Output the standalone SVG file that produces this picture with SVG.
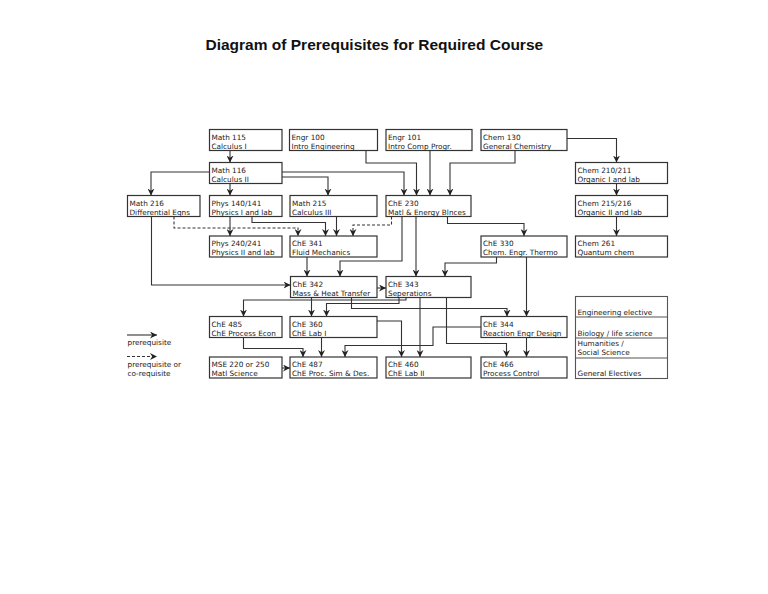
<svg xmlns="http://www.w3.org/2000/svg" width="768" height="594" viewBox="0 0 768 594">
<style>
.bg{fill:#fff}
.box{fill:#fff;stroke:#333;stroke-width:1.2}
.t{font-family:"DejaVu Sans",Verdana,sans-serif;font-size:7.3px;fill:#1a1a1a}
.title{font-family:"Liberation Sans",Arial,sans-serif;font-size:15.5px;font-weight:bold;fill:#111}
.c{fill:none;stroke:#333;stroke-width:1.1;marker-end:url(#ah)}
.d{stroke-dasharray:3,2}
.leg{fill:none;stroke:#555;stroke-width:1.1}
</style>
<defs>
<marker id="ah" viewBox="0 0 8 8" refX="8" refY="4" markerWidth="7" markerHeight="7" markerUnits="userSpaceOnUse" orient="auto">
<path d="M0,0 L8,4 L0,8 L2.5,4 z" fill="#222"/>
</marker>
</defs>
<rect class="bg" x="0" y="0" width="768" height="594"/>
<text class="title" x="205.5" y="50">Diagram of Prerequisites for Required Course</text>

<g id="connectors">
<polyline class="c" points="230,150.5 230,162.5"/>
<polyline class="c" points="209.5,172 151,172 151,195.5"/>
<polyline class="c" points="230,183.5 230,195.5"/>
<polyline class="c" points="282,177 328,177 328,195.5"/>
<polyline class="c" points="282,172 404,172 404,195.5"/>
<polyline class="c" points="366,150.5 366,163 416.5,163 416.5,195.5"/>
<polyline class="c" points="430,150.5 430,195.5"/>
<polyline class="c" points="515,150.5 515,163 450,163 450,195.5"/>
<polyline class="c" points="567,138.5 616.5,138.5 616.5,162.5"/>
<polyline class="c" points="616.5,183.5 616.5,195.5"/>
<polyline class="c" points="616.5,216.5 616.5,236"/>
<polyline class="c" points="230,216.5 230,236"/>
<polyline class="c" points="252,216.5 252,222.5 325.5,222.5 325.5,236"/>
<polyline class="c" points="336.5,216.5 336.5,236"/>
<polyline class="c d" points="174,216.5 174,228 298,228 298,236"/>
<polyline class="c d" points="391.5,216.5 391.5,225 353,225 353,236"/>
<polyline class="c" points="151.5,216.5 151.5,285 290.5,285"/>
<polyline class="c" points="307,257 307,276.5"/>
<polyline class="c" points="402,216.5 402,261 340,261 340,276.5"/>
<polyline class="c" points="416,216.5 416,276.5"/>
<polyline class="c" points="447.5,216.5 447.5,223.5 524,223.5 524,236"/>
<polyline class="c" points="496.5,257 496.5,263 445,263 445,276.5"/>
<polyline class="c" points="526.5,257 526.5,316.5"/>
<polyline class="c" points="377,288 386,288"/>
<polyline class="c" points="406,297.5 406,300 243.5,300 243.5,316.5"/>
<polyline class="c" points="311.5,297.5 311.5,316.5"/>
<polyline class="c" points="399,297.5 399,303.5 326.5,303.5 326.5,316.5"/>
<polyline class="c" points="351.5,297.5 351.5,308.5 507,308.5 507,316.5"/>
<polyline class="c" points="420,297.5 420,357"/>
<polyline class="c" points="377,321 401.5,321 401.5,357"/>
<polyline class="c" points="446.5,297.5 446.5,343.5 506.5,343.5 506.5,357"/>
<polyline class="c" points="526.5,337.5 526.5,357"/>
<polyline class="c" points="481,327 433,327 433,345.5 345,345.5 345,357"/>
<polyline class="c" points="321.5,337.5 321.5,357"/>
<polyline class="c" points="243.5,337.5 243.5,348.5 303,348.5 303,357"/>
<polyline class="c" points="282,368 290,368"/>
</g>

<g id="math115"><rect class="box" x="209.5" y="129.5" width="72.5" height="21"/><text class="t" x="211.5" y="139.5">Math 115</text><text class="t" x="211.5" y="148.5">Calculus I</text></g>
<g id="engr100"><rect class="box" x="289.5" y="129.5" width="88" height="21"/><text class="t" x="291.5" y="139.5">Engr 100</text><text class="t" x="291.5" y="148.5">Intro Engineering</text></g>
<g id="engr101"><rect class="box" x="386" y="129.5" width="86" height="21"/><text class="t" x="388" y="139.5">Engr 101</text><text class="t" x="388" y="148.5">Intro Comp Progr.</text></g>
<g id="chem130"><rect class="box" x="481" y="129.5" width="86" height="21"/><text class="t" x="483" y="139.5">Chem 130</text><text class="t" x="483" y="148.5">General Chemistry</text></g>

<g id="math116"><rect class="box" x="209.5" y="162.5" width="72.5" height="21"/><text class="t" x="211.5" y="172.5">Math 116</text><text class="t" x="211.5" y="181.5">Calculus II</text></g>
<g id="chem210"><rect class="box" x="575.5" y="162.5" width="92" height="21"/><text class="t" x="577.5" y="172.5">Chem 210/211</text><text class="t" x="577.5" y="181.5">Organic I and lab</text></g>

<g id="math216"><rect class="box" x="127.5" y="195.5" width="72.5" height="21"/><text class="t" x="129.5" y="205.5">Math 216</text><text class="t" x="129.5" y="214.5">Differential Eqns</text></g>
<g id="phys140"><rect class="box" x="209.5" y="195.5" width="72.5" height="21"/><text class="t" x="211.5" y="205.5">Phys 140/141</text><text class="t" x="211.5" y="214.5">Physics I and lab</text></g>
<g id="math215"><rect class="box" x="290" y="195.5" width="87" height="21"/><text class="t" x="292" y="205.5">Math 215</text><text class="t" x="292" y="214.5">Calculus III</text></g>
<g id="che230"><rect class="box" x="386" y="195.5" width="85" height="21"/><text class="t" x="388" y="205.5">ChE 230</text><text class="t" x="388" y="214.5">Matl &amp; Energy Blnces</text></g>
<g id="chem215"><rect class="box" x="575.5" y="195.5" width="92" height="21"/><text class="t" x="577.5" y="205.5">Chem 215/216</text><text class="t" x="577.5" y="214.5">Organic II and lab</text></g>

<g id="phys240"><rect class="box" x="209.5" y="236" width="72.5" height="21"/><text class="t" x="211.5" y="246">Phys 240/241</text><text class="t" x="211.5" y="255">Physics II and lab</text></g>
<g id="che341"><rect class="box" x="290" y="236" width="87" height="21"/><text class="t" x="292" y="246">ChE 341</text><text class="t" x="292" y="255">Fluid Mechanics</text></g>
<g id="che330"><rect class="box" x="481" y="236" width="86" height="21"/><text class="t" x="483" y="246">ChE 330</text><text class="t" x="483" y="255">Chem. Engr. Thermo</text></g>
<g id="chem261"><rect class="box" x="575.5" y="236" width="92" height="21"/><text class="t" x="577.5" y="246">Chem 261</text><text class="t" x="577.5" y="255">Quantum chem</text></g>

<g id="che342"><rect class="box" x="290.5" y="276.5" width="86.5" height="21"/><text class="t" x="292.5" y="286.5">ChE 342</text><text class="t" x="292.5" y="295.5">Mass &amp; Heat Transfer</text></g>
<g id="che343"><rect class="box" x="386" y="276.5" width="85" height="21"/><text class="t" x="388" y="286.5">ChE 343</text><text class="t" x="388" y="295.5">Seperations</text></g>

<g id="che485"><rect class="box" x="209.5" y="316.5" width="72.5" height="21"/><text class="t" x="211.5" y="326.5">ChE 485</text><text class="t" x="211.5" y="335.5">ChE Process Econ</text></g>
<g id="che360"><rect class="box" x="290" y="316.5" width="87" height="21"/><text class="t" x="292" y="326.5">ChE 360</text><text class="t" x="292" y="335.5">ChE Lab I</text></g>
<g id="che344"><rect class="box" x="481" y="316.5" width="86" height="21"/><text class="t" x="483" y="326.5">ChE 344</text><text class="t" x="483" y="335.5">Reaction Engr Design</text></g>

<g id="mse220"><rect class="box" x="209.5" y="357" width="72.5" height="21"/><text class="t" x="211.5" y="367">MSE 220 or 250</text><text class="t" x="211.5" y="376">Matl Science</text></g>
<g id="che487"><rect class="box" x="290" y="357" width="87" height="21"/><text class="t" x="292" y="367">ChE 487</text><text class="t" x="292" y="376">ChE Proc. Sim &amp; Des.</text></g>
<g id="che460"><rect class="box" x="386" y="357" width="85" height="21"/><text class="t" x="388" y="367">ChE 460</text><text class="t" x="388" y="376">ChE Lab II</text></g>
<g id="che466"><rect class="box" x="481" y="357" width="86" height="21"/><text class="t" x="483" y="367">ChE 466</text><text class="t" x="483" y="376">Process Control</text></g>

<g id="electives">
<rect class="leg" x="575.5" y="296.5" width="92" height="82"/>
<line class="leg" x1="575.5" y1="317" x2="667.5" y2="317"/>
<line class="leg" x1="575.5" y1="338" x2="667.5" y2="338"/>
<line class="leg" x1="575.5" y1="358" x2="667.5" y2="358"/>
<text class="t" x="577.5" y="314.5">Engineering elective</text>
<text class="t" x="577.5" y="335.5">Biology / life science</text>
<text class="t" x="577.5" y="345.5">Humanities /</text>
<text class="t" x="577.5" y="354.5">Social Science</text>
<text class="t" x="577.5" y="376">General Electives</text>
</g>

<g id="legend">
<line class="c" x1="127" y1="335" x2="157" y2="335"/>
<text class="t" x="127.5" y="345">prerequisite</text>
<line class="c d" x1="127" y1="356.5" x2="157" y2="356.5"/>
<text class="t" x="127.5" y="367">prerequisite or</text>
<text class="t" x="127.5" y="376">co-requisite</text>
</g>
</svg>
